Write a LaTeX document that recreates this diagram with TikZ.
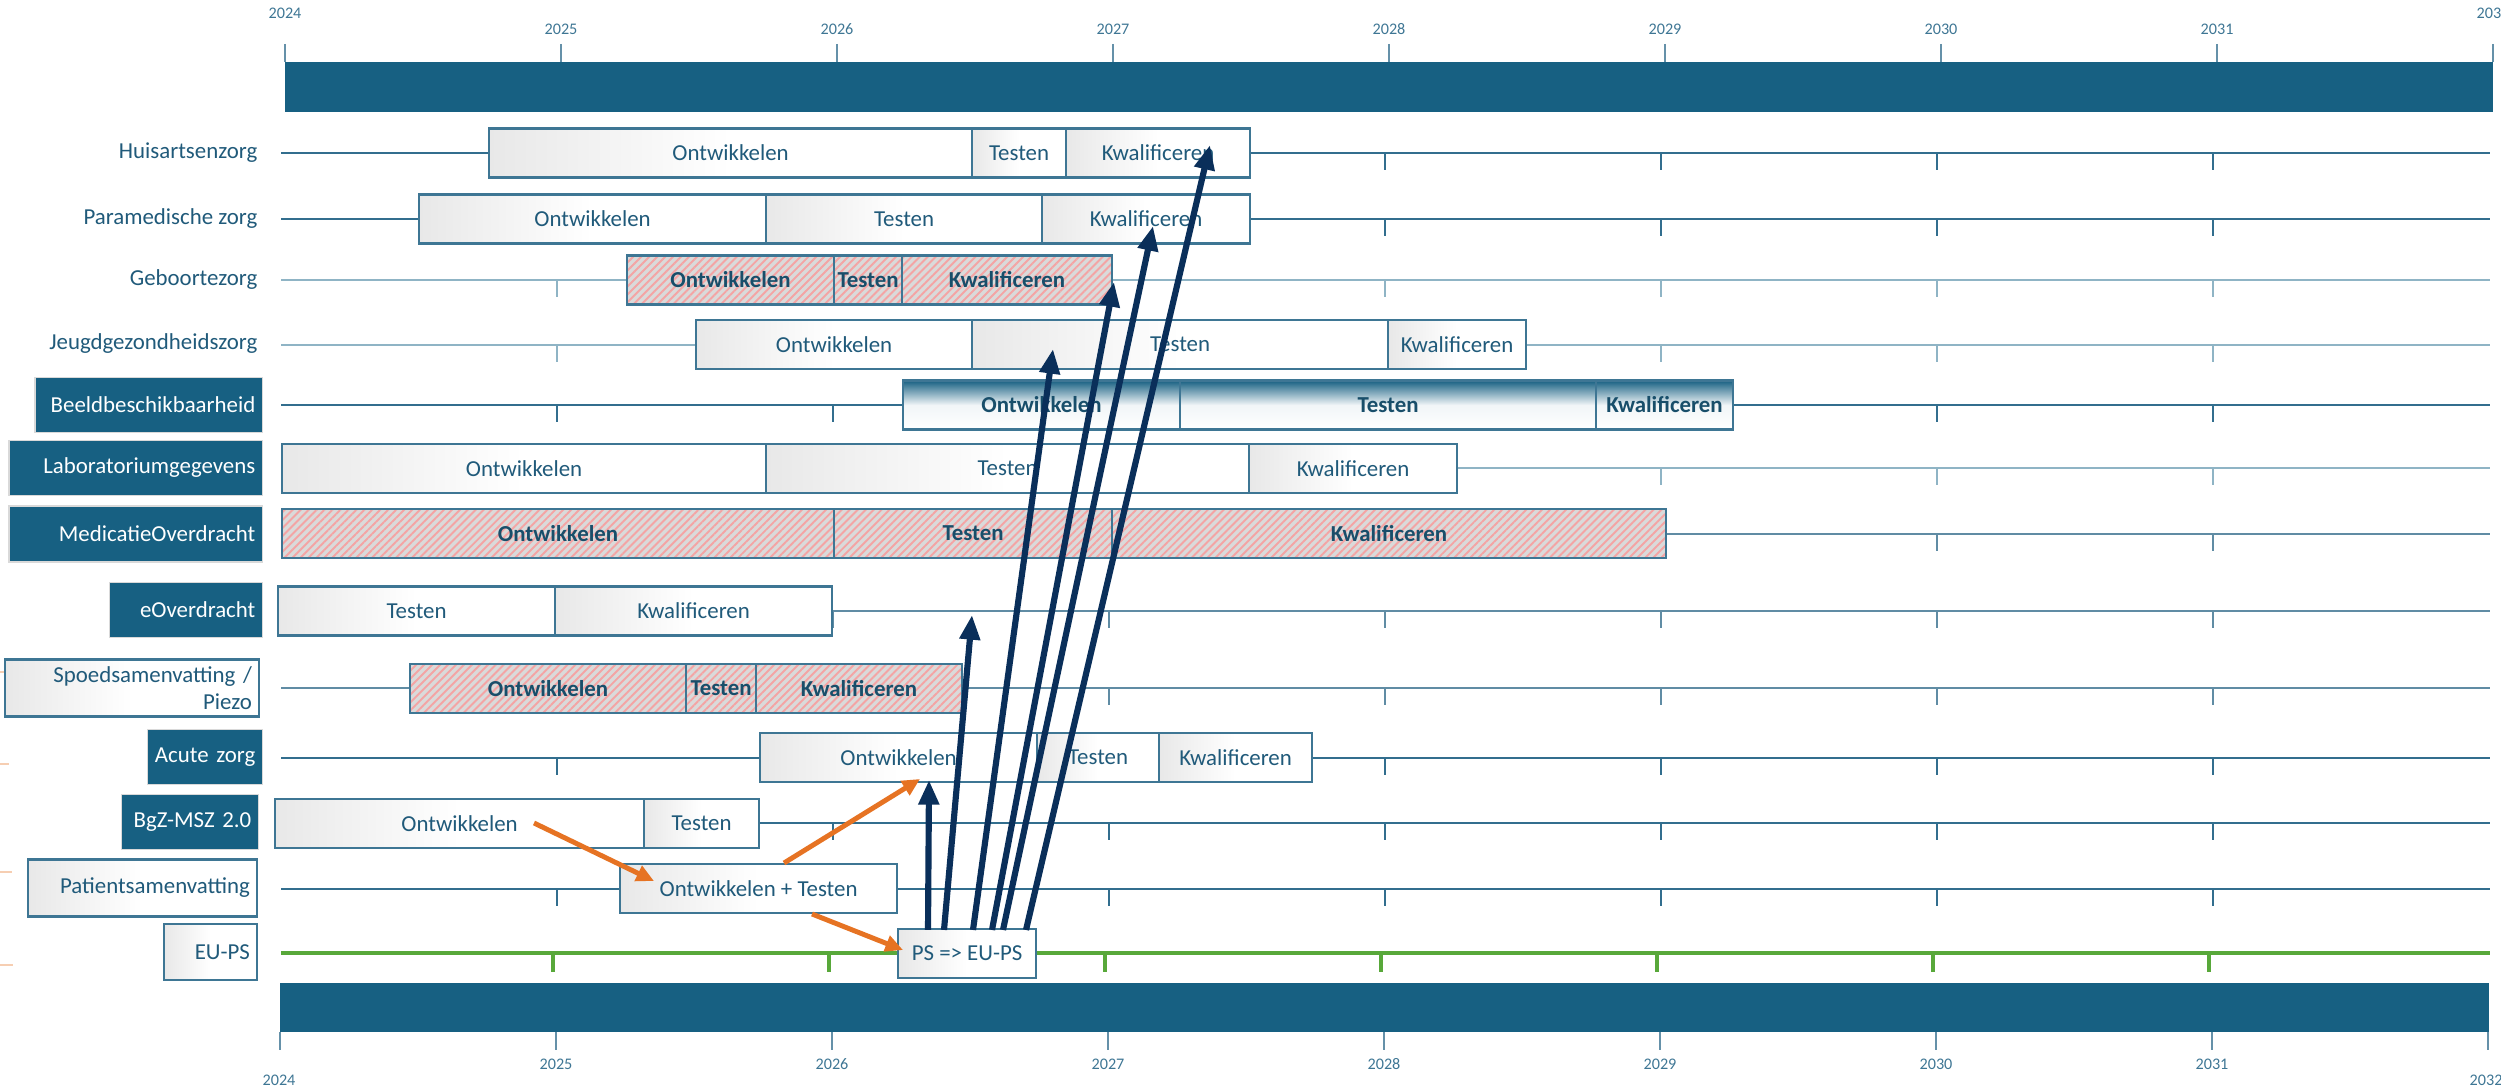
\documentclass[tikz,border=0pt]{standalone}
\usepackage{fontspec}
\setmainfont{Carlito}
\usetikzlibrary{arrows.meta,patterns.meta,calc}

\definecolor{barblue}{RGB}{23,96,130}
\definecolor{txtblue}{RGB}{32,90,122}
\definecolor{edgeblue}{RGB}{62,118,148}
\definecolor{linedark}{RGB}{50,110,142}
\definecolor{linemid}{RGB}{96,140,164}
\definecolor{linelight}{RGB}{143,180,197}
\definecolor{navy}{RGB}{10,47,90}
\definecolor{feedorange}{RGB}{230,115,35}
\definecolor{msgreen}{RGB}{88,168,58}
\definecolor{hatchpink}{RGB}{244,164,164}
\definecolor{hatchgray}{RGB}{218,218,218}
\definecolor{hatchtxt}{RGB}{24,78,106}

\tikzset{
  txt/.style={font=\fontsize{6.5pt}{7.6pt}\selectfont},
  yr/.style={font=\fontsize{4.6pt}{5pt}\selectfont, text=edgeblue, inner sep=0pt},
  span/.style 2 args={anchor=west, minimum width={(#2-#1)*0.01cm}},
  phase/.style={txt, draw=edgeblue, line width=0.6pt, inner sep=0pt, minimum height=0.49cm, text=txtblue},
  plain/.style={phase, left color=black!9, right color=white, middle color=white},
  hatched/.style={phase, preaction={fill=hatchgray},
    pattern={Lines[angle=45,distance=1.6pt,line width=0.55pt]}, pattern color=hatchpink,
    font=\fontsize{6.5pt}{7.6pt}\selectfont\bfseries, text=hatchtxt},
  faded/.style={phase, top color=barblue, bottom color=white, middle color=barblue!6,
    font=\fontsize{6.5pt}{7.6pt}\selectfont\bfseries, text=hatchtxt},
  rowname/.style={txt, anchor=east, inner sep=0pt, text=txtblue},
  lab/.style={txt, anchor=east, align=right, fill=barblue, draw=black!15, line width=0.4pt,
    text=white, inner xsep=0.07cm, inner ysep=0.5pt, minimum height=0.55cm},
  labx/.style={txt, anchor=east, align=right, draw=edgeblue, line width=0.6pt, text=txtblue,
    left color=black!9, right color=white, middle color=white,
    inner xsep=0.07cm, inner ysep=0.5pt, minimum height=0.57cm},
  link/.style={navy, line width=1.75pt, -{Triangle[length=7pt,width=5.6pt]}},
  feed/.style={feedorange, line width=1.4pt, -{Triangle[length=5pt,width=4.6pt]}}
}

\begin{document}
\begin{tikzpicture}[x=0.01cm, y=-0.01cm]
\useasboundingbox (0,0) rectangle (2501,1089);

\fill[barblue] (285,62) rectangle (2493,112);
\foreach \k in {0,...,8}
  \draw[edgeblue!80] ({285+276*\k},44) -- ({285+276*\k},62);
\foreach \k [evaluate=\k as \yy using int(2024+\k)] in {1,...,7}
  \node[yr] (top\k) at ({285+276*\k},29) {\yy};
\node[yr] (top0) at (285,13) {2024};
\node[yr] (top8) at (2493,13) {2032};

\fill[barblue] (280,983) rectangle (2489,1032);
\foreach \k in {0,...,8}
  \draw[edgeblue!80] ({280+276*\k},1032) -- ({280+276*\k},1050);
\foreach \k [evaluate=\k as \yy using int(2024+\k)] in {1,...,7}
  \node[yr] (bot\k) at ({280+276*\k},1064) {\yy};
\node[yr] (bot0) at (279,1080) {2024};
\node[yr] (bot8) at (2486,1080) {2032};

\foreach \y/\c in {153/linedark,219/linedark,280/linelight,345/linelight,405/linedark,
    468/linelight,534/linemid,611/linemid,688/linemid,758/linedark,823/linedark,889/linedark}{
  \draw[\c, line width=0.6pt] (281,\y) -- (2490,\y);
  \foreach \k in {1,...,7} \draw[\c] ({281+276*\k},\y) -- ++(0,17);
}
\draw[msgreen, line width=1.3pt] (281,953) -- (2490,953);
\foreach \k in {1,...,7} \draw[msgreen, line width=1pt] ({277+276*\k},953) -- ++(0,19);

\draw[feedorange!35] (0,672) -- (7,672);
\draw[feedorange!35] (0,764) -- (9,764);
\draw[feedorange!35] (0,872) -- (12,872);
\draw[feedorange!35] (0,965) -- (13,965);

\node[rowname] (nHuis) at (258,153) {Huisartsenzorg};
\node[rowname] (nPara) at (258,219) {Paramedische zorg};
\node[rowname] (nGeb) at (258,280) {Geboortezorg};
\node[rowname] (nJeugd) at (258,344) {Jeugdgezondheidszorg};
\node[lab, text width=2.13cm] (nBeeld) at (263,405) {Beeldbeschikbaarheid};
\node[lab, text width=2.39cm] (nLab) at (263,468) {Laboratoriumgegevens};
\node[lab, text width=2.39cm, minimum height=0.56cm] (nMed) at (263,534) {MedicatieOverdracht};
\node[lab, text width=1.39cm] (nEov) at (263,610) {eOverdracht};
\node[labx, text width=2.40cm] (nSpoed) at (260,688) {Spoedsamenvatting /\\Piezo};
\node[lab, text width=1.01cm] (nAcute) at (263,757) {Acute zorg};
\node[lab, text width=1.23cm] (nBgz) at (259,822) {BgZ-MSZ 2.0};
\node[labx, text width=2.15cm] (nPat) at (258,888) {Patientsamenvatting};
\node[labx, text width=0.79cm, minimum height=0.56cm] (nEups) at (258,952) {EU-PS};

\node[plain, span={488}{971}] (huOnt) at (488,153) {Ontwikkelen};
\node[plain, span={971}{1065}] (huTest) at (971,153) {Testen};
\node[plain, span={1065}{1249}] (huKwal) at (1065,153) {Kwalificeren};

\node[plain, span={418}{765}] (paOnt) at (418,219) {Ontwikkelen};
\node[plain, span={765}{1041}] (paTest) at (765,219) {Testen};
\node[plain, span={1041}{1249}] (paKwal) at (1041,219) {Kwalificeren};

\node[hatched, span={626}{833}] (geOnt) at (626,280) {Ontwikkelen};
\node[hatched, span={833}{901}] (geTest) at (833,280) {Testen};
\node[hatched, span={901}{1111}] (geKwal) at (901,280) {Kwalificeren};

\node[plain, span={695}{971}] (jeOnt) at (695,344.5) {Ontwikkelen};
\node[plain, span={971}{1387}] (jeTest) at (971,344.5) {Testen};
\node[plain, span={1387}{1525}] (jeKwal) at (1387,344.5) {Kwalificeren};

\node[faded, span={902}{1179}] (beOnt) at (902,405) {Ontwikkelen};
\node[faded, span={1179}{1595}] (beTest) at (1179,405) {Testen};
\node[faded, span={1595}{1732}] (beKwal) at (1595,405) {Kwalificeren};

\node[plain, span={281}{765}] (laOnt) at (281,468.5) {Ontwikkelen};
\node[plain, span={765}{1248}] (laTest) at (765,468.5) {Testen};
\node[plain, span={1248}{1456}] (laKwal) at (1248,468.5) {Kwalificeren};

\node[hatched, span={281}{833}] (meOnt) at (281,533.5) {Ontwikkelen};
\node[hatched, span={833}{1111}] (meTest) at (833,533.5) {Testen};
\node[hatched, span={1111}{1665}] (meKwal) at (1111,533.5) {Kwalificeren};

\node[plain, span={277}{554}] (eoTest) at (277,611) {Testen};
\node[plain, span={554}{831}] (eoKwal) at (554,611) {Kwalificeren};

\node[hatched, span={409}{685}] (spOnt) at (409,688.5) {Ontwikkelen};
\node[hatched, span={685}{755}] (spTest) at (685,688.5) {Testen};
\node[hatched, span={755}{961}] (spKwal) at (755,688.5) {Kwalificeren};

\node[plain, span={759}{1036}] (acOnt) at (759,757.5) {Ontwikkelen};
\node[plain, span={1036}{1158}] (acTest) at (1036,757.5) {Testen};
\node[plain, span={1158}{1311}] (acKwal) at (1158,757.5) {Kwalificeren};

\node[plain, span={274}{643}] (bgOnt) at (274,823.5) {Ontwikkelen};
\node[plain, span={643}{758}] (bgTest) at (643,823.5) {Testen};

\node[plain, span={619}{896}] (patOT) at (619,888.5) {Ontwikkelen + Testen};

\node[plain, span={897}{1035}] (ps) at (897,953.5) {PS => EU-PS};

\coordinate (bgOut) at (534,823);
\coordinate (patIn) at (654,881);
\coordinate (patUp) at (784,863);
\coordinate (acIn) at (920,779);
\coordinate (patDown) at (812,914);
\coordinate (psIn) at (903,950);
\draw[feed] (bgOut) -- (patIn);
\draw[feed] (patUp) -- (acIn);
\draw[feed] (patDown) -- (psIn);

\coordinate (tAcute) at (929,780);
\coordinate (tEov) at (972,615);
\coordinate (tJeugd) at (1053,349);
\coordinate (tGeb) at (1114,282);
\coordinate (tPara) at (1153,226);
\coordinate (tHuis) at (1210,145);
\draw[link] ($(ps.north west)+(31,2)$) -- (tAcute);
\draw[link] ($(ps.north west)+(47,2)$) -- (tEov);
\draw[link] ($(ps.north west)+(76,2)$) -- (tJeugd);
\draw[link] ($(ps.north west)+(95,2)$) -- (tGeb);
\draw[link] ($(ps.north west)+(106,2)$) -- (tPara);
\draw[link] ($(ps.north west)+(129,2)$) -- (tHuis);
\end{tikzpicture}
\end{document}
